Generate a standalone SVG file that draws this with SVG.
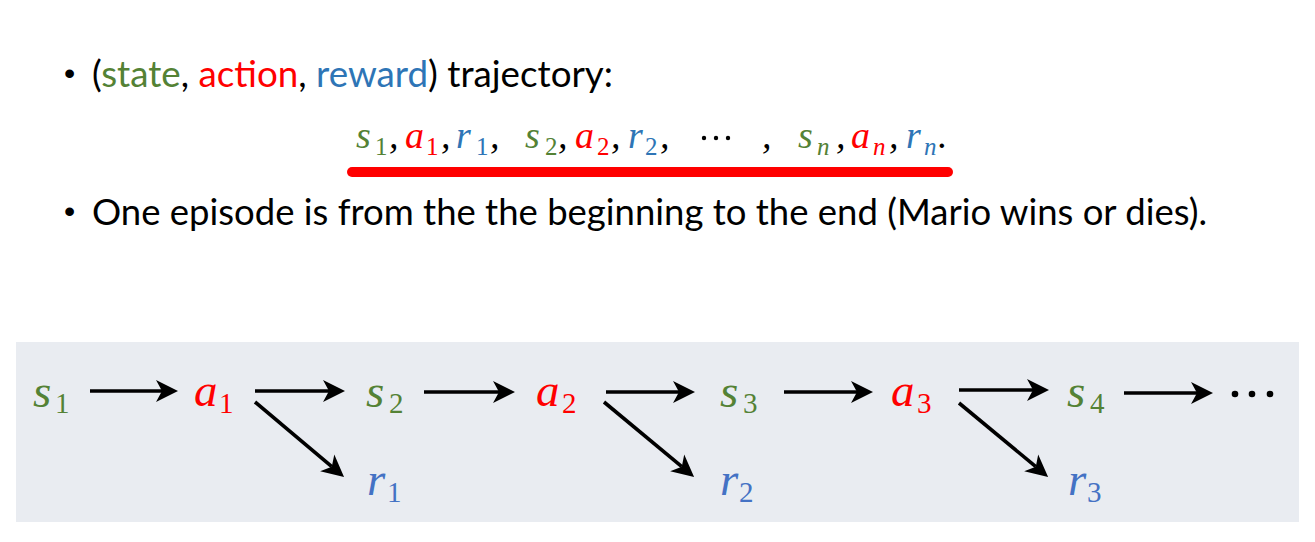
<svg xmlns="http://www.w3.org/2000/svg" width="1315" height="542" viewBox="0 0 1315 542">
<style>
.txt{font-family:Lato,"Open Sans","Liberation Sans",sans-serif;font-size:37px;fill:#000}
.bul{font-family:"Liberation Sans",sans-serif;font-size:32px;fill:#000}
.m{font-family:"Liberation Serif","DejaVu Serif",serif;font-style:italic}
.sub{font-family:"Liberation Serif","DejaVu Serif",serif;font-style:normal}
.subi{font-family:"Liberation Serif","DejaVu Serif",serif;font-style:italic}
.f{font-size:38px}
.fs{font-size:25px}
.d{font-size:47px}
.ds{font-size:29px}
.g{fill:#548235}
.r{fill:#FF0000}
.b{fill:#2E75B6}
.b2{fill:#4472C4}
.k{fill:#000}
.arr{stroke:#000;stroke-width:3.6;fill:none;marker-end:url(#ah)}
</style>
<defs>
<marker id="ah" markerUnits="userSpaceOnUse" viewBox="-20 -20 40 40" markerWidth="40" markerHeight="40" refX="0" refY="0" orient="auto" overflow="visible">
<path d="M16,0 L-6,-11 L0,0 L-6,11 Z" fill="#000"/>
</marker>
</defs>
<rect width="1315" height="542" fill="#FFFFFF"/>

<g id="bullet1">
<text class="bul" x="64" y="84">•</text>
<text class="txt" x="92" y="87" textLength="521" lengthAdjust="spacingAndGlyphs">(<tspan class="g">state</tspan>, <tspan class="r">action</tspan>, <tspan class="b">reward</tspan>) trajectory:</text>
</g>

<g id="trajectory">
<text class="m f g" x="356" y="148">s<tspan class="sub fs" x="375" y="155">1</tspan></text>
<text class="m f k" x="389" y="148">,</text>
<text class="m f r" x="405" y="148">a<tspan class="sub fs" x="426" y="155">1</tspan></text>
<text class="m f k" x="441" y="148">,</text>
<text class="m f b" x="456" y="148">r<tspan class="sub fs" x="476" y="155">1</tspan></text>
<text class="m f k" x="490" y="148">,</text>
<text class="m f g" x="525" y="148">s<tspan class="sub fs" x="545" y="155">2</tspan></text>
<text class="m f k" x="558" y="148">,</text>
<text class="m f r" x="575" y="148">a<tspan class="sub fs" x="597" y="155">2</tspan></text>
<text class="m f k" x="611" y="148">,</text>
<text class="m f b" x="628" y="148">r<tspan class="sub fs" x="645" y="155">2</tspan></text>
<text class="m f k" x="660" y="148">,</text>
<circle cx="704" cy="138" r="2.2" fill="#000"/>
<circle cx="716" cy="138" r="2.2" fill="#000"/>
<circle cx="728" cy="138" r="2.2" fill="#000"/>
<text class="m f k" x="762" y="148">,</text>
<text class="m f g" x="798" y="148">s<tspan class="subi fs" x="817" y="155">n</tspan></text>
<text class="m f k" x="836" y="148">,</text>
<text class="m f r" x="851" y="148">a<tspan class="subi fs" x="873" y="155">n</tspan></text>
<text class="m f k" x="889" y="148">,</text>
<text class="m f b" x="906" y="148">r<tspan class="subi fs" x="924" y="155">n</tspan></text>
<text class="m f k" x="938" y="148">.</text>
<rect x="347" y="167" width="606" height="10" rx="5" fill="#FF0000"/>
</g>

<g id="bullet2">
<text class="bul" x="64" y="222">•</text>
<text class="txt" x="92" y="225" textLength="1115" lengthAdjust="spacingAndGlyphs">One episode is from the the beginning to the end (Mario wins or dies).</text>
</g>

<rect id="panel" x="16" y="342" width="1283" height="180" fill="#E9ECF1"/>

<g id="s1"><text class="m d g" x="33" y="407">s<tspan class="sub ds" x="55" y="413">1</tspan></text></g>
<g id="a1"><text class="m d r" x="194" y="406">a<tspan class="sub ds" x="219" y="413">1</tspan></text></g>
<g id="s2"><text class="m d g" x="366" y="407">s<tspan class="sub ds" x="389" y="413">2</tspan></text></g>
<g id="r1"><text class="m d b2" x="367" y="495">r<tspan class="sub ds" x="387" y="502">1</tspan></text></g>
<g id="a2"><text class="m d r" x="536" y="406">a<tspan class="sub ds" x="562" y="413">2</tspan></text></g>
<g id="s3"><text class="m d g" x="720" y="407">s<tspan class="sub ds" x="743" y="413">3</tspan></text></g>
<g id="r2"><text class="m d b2" x="720" y="495">r<tspan class="sub ds" x="739" y="502">2</tspan></text></g>
<g id="a3"><text class="m d r" x="891" y="406">a<tspan class="sub ds" x="917" y="413">3</tspan></text></g>
<g id="s4"><text class="m d g" x="1067" y="407">s<tspan class="sub ds" x="1090" y="413">4</tspan></text></g>
<g id="r3"><text class="m d b2" x="1068" y="495">r<tspan class="sub ds" x="1087" y="502">3</tspan></text></g>
<g id="dots">
<circle cx="1235" cy="394" r="3.3" fill="#000"/>
<circle cx="1252" cy="394" r="3.3" fill="#000"/>
<circle cx="1270" cy="394" r="3.3" fill="#000"/>
</g>

<g id="connectors">
<line class="arr" x1="90" y1="391" x2="162" y2="391"/>
<line class="arr" x1="255" y1="391" x2="329" y2="391"/>
<line class="arr" x1="255" y1="402" x2="331.8" y2="466.7"/>
<line class="arr" x1="424" y1="392" x2="499" y2="392"/>
<line class="arr" x1="606" y1="392" x2="679" y2="392"/>
<line class="arr" x1="604" y1="402" x2="681.8" y2="466.7"/>
<line class="arr" x1="784" y1="392" x2="857" y2="392"/>
<line class="arr" x1="959" y1="390" x2="1033" y2="390"/>
<line class="arr" x1="959" y1="403" x2="1035.8" y2="466.7"/>
<line class="arr" x1="1124" y1="393" x2="1197" y2="393"/>
</g>
</svg>
